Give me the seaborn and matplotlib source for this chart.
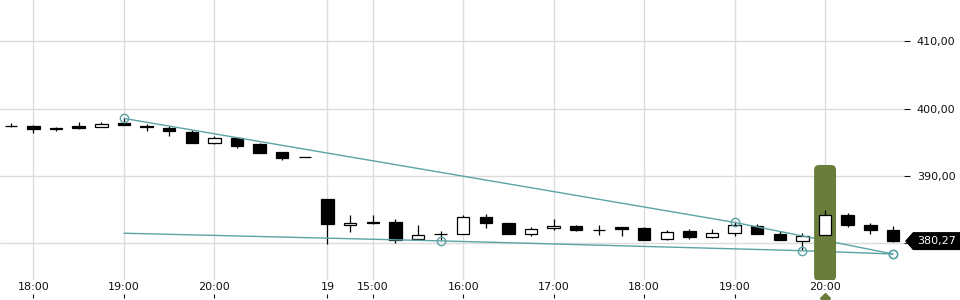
import matplotlib
matplotlib.use("Agg")
import matplotlib.pyplot as plt
import matplotlib.transforms as mtransforms
from matplotlib.patches import FancyBboxPatch, Polygon
import numpy as np
import pandas as pd
import seaborn as sns

# ---------------- data ----------------
opens = [397.46, 397.46, 397.12, 397.46, 397.22, 397.90, 397.46, 397.12, 396.48, 394.93,
         395.58, 394.74, 393.50, 392.76,
         386.57, 382.66, 383.15, 383.15, 380.58, 381.37, 381.32, 383.79, 382.96, 381.32,
         382.15, 382.56, 381.96, 382.30, 382.21, 380.58, 381.81, 380.88, 381.47, 382.56,
         381.32, 380.33, 381.17, 384.19, 382.66, 381.92]
highs = [397.90, 397.56, 397.22, 398.00, 397.96, 398.53, 397.67, 397.42, 396.82, 395.93,
         395.60, 394.80, 393.50, 392.76,
         386.57, 384.19, 384.19, 383.60, 382.70, 381.71, 384.10, 384.30, 382.96, 382.41,
         383.60, 382.70, 382.70, 382.35, 382.30, 381.86, 382.11, 382.07, 383.15, 382.85,
         381.81, 381.47, 384.93, 384.44, 382.96, 382.56]
lows = [397.22, 396.33, 396.72, 397.00, 397.22, 397.50, 396.63, 395.97, 394.93, 394.74,
        394.19, 393.45, 392.41, 392.76,
        379.84, 381.56, 382.80, 379.93, 380.58, 380.48, 381.32, 382.21, 381.32, 380.97,
        381.86, 381.70, 381.22, 380.97, 380.40, 380.37, 380.58, 380.67, 380.97, 381.30,
        380.43, 378.90, 381.17, 382.30, 381.37, 380.20]
closes = [397.46, 396.93, 396.93, 397.16, 397.76, 397.50, 397.22, 396.72, 394.93, 395.58,
          394.49, 393.45, 392.70, 392.76,
          382.75, 383.00, 382.90, 380.48, 381.17, 381.37, 383.90, 382.90, 381.32, 382.07,
          382.56, 381.86, 381.96, 382.00, 380.43, 381.62, 380.82, 381.47, 382.60, 381.32,
          380.43, 381.07, 384.15, 382.60, 381.86, 380.27]

tick_pos = [1, 5, 9, 14, 16, 20, 24, 28, 32, 36]
tick_labels = ["18:00", "19:00", "20:00", "19", "15:00", "16:00", "17:00", "18:00", "19:00", "20:00"]
y_ticks = [380, 390, 400, 410]

# trend lines (candle index, price)
upper_x = [5, 32, 39]
upper_y = [398.53, 383.05, 378.35]
lower_x = [5, 19, 35, 39]
lower_y = [381.44, 380.30, 378.84, 378.35]

highlight_idx = 36
highlight_top = 391.6

# ---------------- styling ----------------
sns.set_theme(style="whitegrid", rc={"grid.color": "#dcdcdc", "grid.linewidth": 1.0})
plt.rcParams["font.family"] = ["DejaVu Sans"]

TEAL = "#5ba3a5"
GREEN = "#6a7d3a"
TXT = "#111111"

fig = plt.figure(figsize=(9.6, 3.0), dpi=100)
ax = fig.add_axes([0, 20 / 300, 904 / 960, 280 / 300])
ax.set_xlim(-0.48, 39.49)
ax.set_ylim(374.48, 416.15)
for s in ax.spines.values():
    s.set_visible(False)

df = pd.DataFrame(dict(x=np.arange(len(opens)), open=opens, high=highs, low=lows, close=closes))
df["up"] = df["close"] >= df["open"]
df["bottom"] = df[["open", "close"]].min(axis=1)
df["height"] = (df["close"] - df["open"]).abs()


def draw_candles(d, z):
    ax.vlines(d["x"], d["low"], d["high"], color="black", lw=0.9, zorder=z)
    ax.bar(d["x"], d["height"], bottom=d["bottom"], width=0.55,
           color=np.where(d["up"], "white", "black"), edgecolor="black",
           linewidth=0.9, zorder=z + 0.1)


draw_candles(df[df.x != highlight_idx], 3)

# trend lines
sns.lineplot(x=upper_x, y=upper_y, ax=ax, color=TEAL, lw=1.0, marker="o", markersize=6,
             markerfacecolor="none", markeredgecolor=TEAL, markeredgewidth=1.0, zorder=4,
             sort=False)
sns.lineplot(x=lower_x, y=lower_y, ax=ax, color=TEAL, lw=1.0, marker="o", markersize=6,
             markerfacecolor="none", markeredgecolor=TEAL, markeredgewidth=1.0,
             markevery=[1, 2, 3], zorder=4, sort=False)

# axes ticks
ax.set_xticks(tick_pos, tick_labels)
ax.tick_params(axis="x", bottom=True, length=0, pad=1.5, labelsize=8, labelcolor=TXT)
ax.yaxis.tick_right()
ax.set_yticks(y_ticks)
# the lowest label sits under the last-price tag, so it is left blank
ax.yaxis.set_major_formatter(plt.FuncFormatter(
    lambda v, p: "" if abs(v - closes[-1]) < 1 else f"{v:.2f}".replace(".", ",")))
ax.tick_params(axis="y", right=True, left=False, length=4.3, width=0.8, pad=5,
               labelsize=8, labelcolor=TXT, color=TXT)
ax.grid(True, color="#dcdcdc", lw=1.0)
ax.set_axisbelow(True)

# small tick marks under the labels
sec = ax.secondary_xaxis(-(297.5 - 280) / 280)
sec.set_xticks([p for p in tick_pos if p != highlight_idx])
sec.tick_params(axis="x", bottom=True, direction="in", length=3, width=0.8,
                labelbottom=False, color=TXT)
for s in sec.spines.values():
    s.set_visible(False)

# highlight bar behind the current candle (display coords derived from data)
fig.canvas.draw()
x0, ytop = ax.transData.transform((highlight_idx - 0.485, highlight_top))
x1, _ = ax.transData.transform((highlight_idx + 0.485, highlight_top))
ybot = ax.transAxes.transform((0, 0))[1] - 1
hl = FancyBboxPatch((x0, ybot), x1 - x0, ytop - ybot,
                    boxstyle="round,pad=0,rounding_size=5",
                    transform=mtransforms.IdentityTransform(),
                    facecolor=GREEN, edgecolor="none", zorder=5)
ax.add_patch(hl)
draw_candles(df[df.x == highlight_idx], 6)

# green marker at the highlighted tick
blend = mtransforms.blended_transform_factory(ax.transData, ax.transAxes)
ax.plot([highlight_idx], [-(297.5 - 280) / 280], marker="D", markersize=4.6, color=GREEN,
        transform=blend, clip_on=False, zorder=10)

# last price tag
_, yc = ax.transData.transform((0, closes[-1]))
tag = Polygon([(905, yc), (913, yc + 9), (960, yc + 9), (960, yc - 9), (913, yc - 9)],
              closed=True, transform=mtransforms.IdentityTransform(),
              facecolor="black", edgecolor="none", zorder=5)
fig.add_artist(tag)
fig.text(917 / 960, yc / 300, f"{closes[-1]:.2f}".replace(".", ","), color="white",
         fontsize=8, ha="left", va="center", zorder=6)

fig.savefig("out.png", dpi=100)
